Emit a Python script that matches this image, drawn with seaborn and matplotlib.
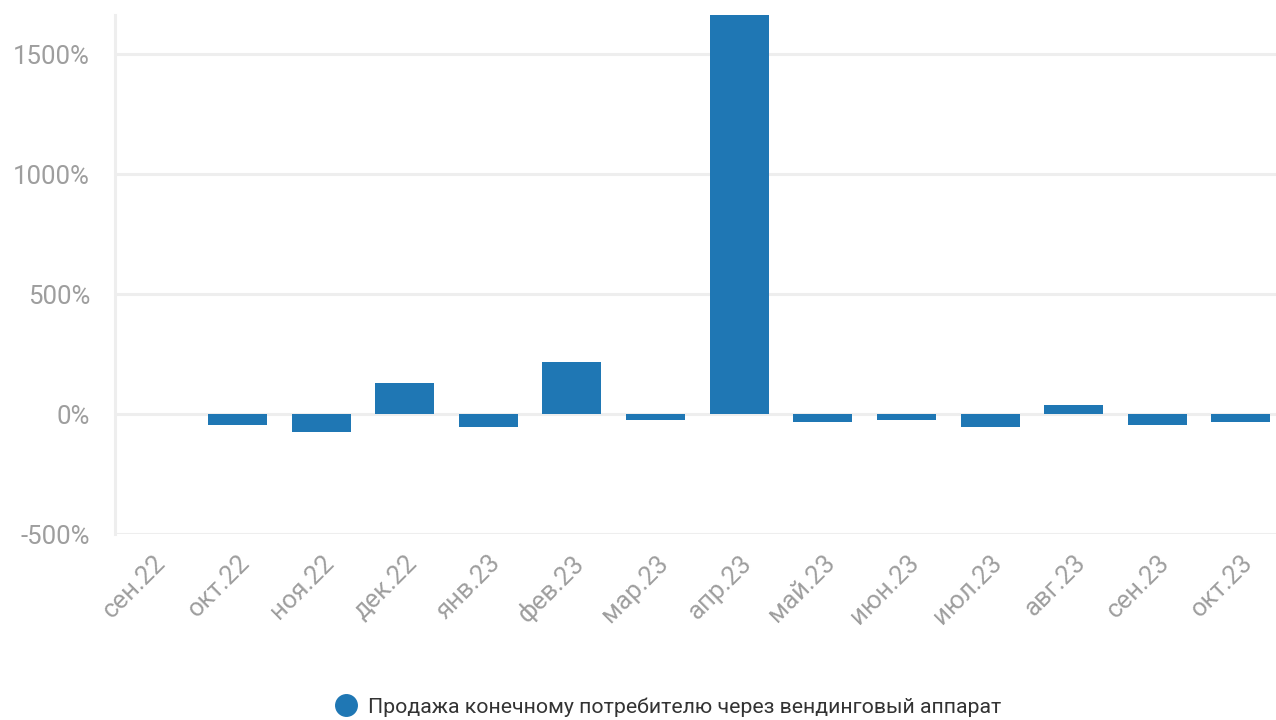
import matplotlib
matplotlib.use('Agg')
import matplotlib.pyplot as plt
from matplotlib.lines import Line2D
from matplotlib.ticker import FuncFormatter, MultipleLocator
import seaborn as sns
import pandas as pd
import numpy as np

months = ['сен.22', 'окт.22', 'ноя.22', 'дек.22', 'янв.23', 'фев.23', 'мар.23',
          'апр.23', 'май.23', 'июн.23', 'июл.23', 'авг.23', 'сен.23', 'окт.23']
change_pct = [np.nan, -44, -76, 128, -55, 215, -23, 1663, -34, -23, -55, 36, -44, -34]
series_name = 'Продажа конечному потребителю через вендинговый аппарат'

BAR_COLOR = '#1f77b4'
GRID_COLOR = '#eeeeee'
TICK_COLOR = '#9e9e9e'

sns.set_style('white')
plt.rcParams['font.family'] = ['Roboto', 'DejaVu Sans']

df = pd.DataFrame({'month': months, 'value': change_pct})

fig = plt.figure(figsize=(12.76, 7.2), dpi=100)
ax = fig.add_axes([115 / 1276, 1 - 534 / 720, 1 - 115 / 1276, (534 - 15) / 720])

sns.barplot(data=df, x='month', y='value', order=months, color=BAR_COLOR, width=0.705,
            saturation=1, linewidth=0, ax=ax, zorder=3)

ax.set_xlim(-0.465, 13.42)
ax.set_ylim(-500, 1663)
ax.yaxis.set_major_locator(MultipleLocator(500))
ax.yaxis.set_major_formatter(FuncFormatter(lambda v, p: f'{v:.0f}%'))

ax.grid(axis='y', color=GRID_COLOR, linewidth=2.2, zorder=0)
ax.set_axisbelow(True)
for side in ['top', 'right', 'bottom']:
    ax.spines[side].set_visible(False)
ax.spines['left'].set_color(GRID_COLOR)
ax.spines['left'].set_linewidth(2.2)

ax.set_xlabel('')
ax.set_ylabel('')
ax.tick_params(axis='both', length=0, colors=TICK_COLOR, labelsize=18.5)
ax.tick_params(axis='y', pad=18)
ax.tick_params(axis='x', pad=12)
plt.setp(ax.get_xticklabels(), rotation=45, ha='right', rotation_mode='anchor')

handle = Line2D([], [], marker='o', linestyle='', markersize=15.5,
                markerfacecolor=BAR_COLOR, markeredgecolor=BAR_COLOR)
fig.legend([handle], [series_name], loc='center', bbox_to_anchor=(667 / 1276, 1 - 707 / 720),
           frameon=False, fontsize=15.3, labelcolor='#333333', handletextpad=0.45,
           handlelength=1.2)

plt.savefig('out.png', dpi=100)
plt.close()
